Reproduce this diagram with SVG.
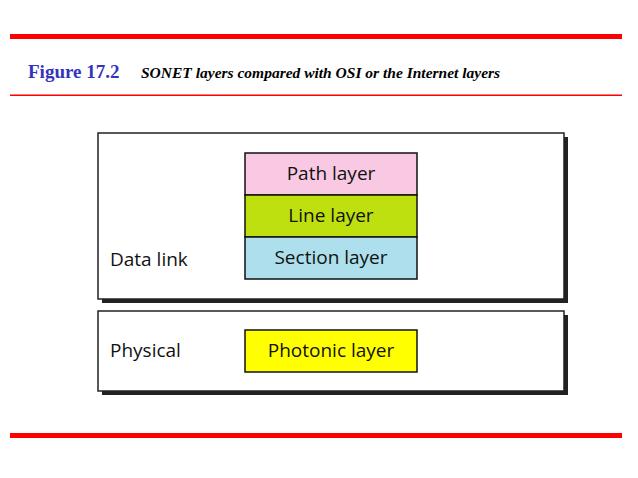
<svg xmlns="http://www.w3.org/2000/svg" width="638" height="478" viewBox="0 0 638 478">
<style>
.sh{fill:#222}
.box{fill:#fff;stroke:#222;stroke-width:1.5}
.ly{stroke:#111;stroke-width:1.5}
.t{font-family:"Open Sans","Noto Sans",sans-serif;font-size:19px;fill:#111}
.c{text-anchor:middle}
</style>
<rect width="638" height="478" fill="#fff"/>
<rect x="10" y="34" width="612" height="5" fill="#f00"/>
<rect x="10" y="94.5" width="612" height="1.5" fill="#f00"/>
<rect x="10" y="433" width="612" height="5" fill="#f00"/>
<text x="28" y="78" font-family="Liberation Serif,serif" font-weight="bold" font-size="19" fill="#3333bb">Figure 17.2</text>
<text x="141" y="78" font-family="Liberation Serif,serif" font-weight="bold" font-style="italic" font-size="15.5" fill="#000">SONET layers compared with OSI or the Internet layers</text>
<g id="datalink">
<rect class="sh" x="102" y="137" width="466" height="166"/>
<rect class="box" x="98" y="133" width="466" height="166"/>
<text class="t" x="110" y="266">Data link</text>
</g>
<g id="physical">
<rect class="sh" x="102" y="315" width="466" height="80"/>
<rect class="box" x="98" y="311" width="466" height="80"/>
<text class="t" x="110" y="357">Physical</text>
</g>
<g id="path"><rect class="ly" x="245" y="153" width="172" height="42" fill="#f9c8e2"/><text class="t c" x="331" y="180">Path layer</text></g>
<g id="line"><rect class="ly" x="245" y="195" width="172" height="42" fill="#bfe00f"/><text class="t c" x="331" y="222">Line layer</text></g>
<g id="section"><rect class="ly" x="245" y="237" width="172" height="42" fill="#ade0ec"/><text class="t c" x="331" y="264">Section layer</text></g>
<g id="photonic"><rect class="ly" x="245" y="330" width="172" height="42" fill="#ffff00"/><text class="t c" x="331" y="357">Photonic layer</text></g>
<g id="connectors"/>
</svg>
